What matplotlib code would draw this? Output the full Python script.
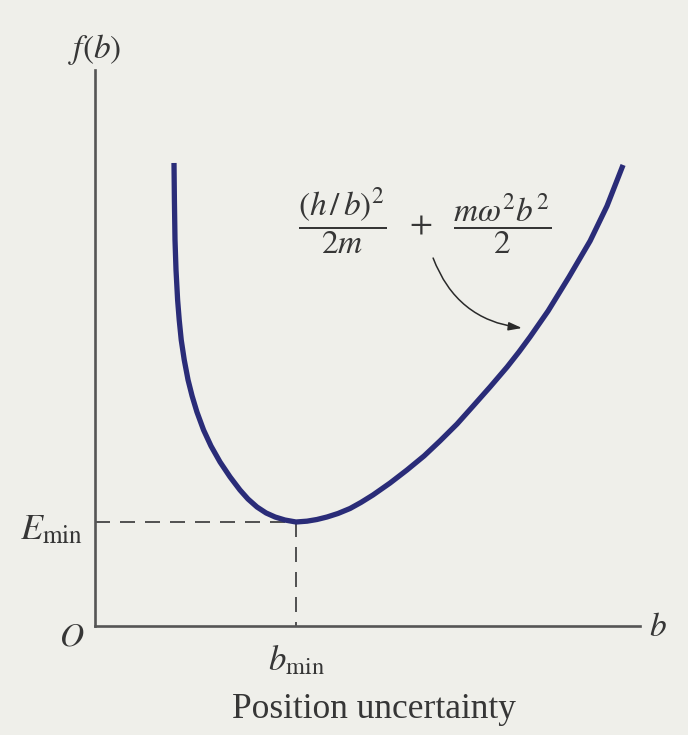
import matplotlib
matplotlib.use("Agg")
import matplotlib.pyplot as plt
import numpy as np

plt.rcParams['font.family'] = ['Liberation Serif', 'DejaVu Serif']
plt.rcParams['mathtext.fontset'] = 'stix'

#-----------Data------------
# energy curve f(b), b in units of b_min and f in units of E_min
b_vals = [0.393, 0.395, 0.398, 0.403, 0.411, 0.419, 0.429, 0.444, 0.463,
          0.483, 0.507, 0.540, 0.577, 0.622, 0.672, 0.721, 0.761, 0.806,
          0.851, 0.896, 0.945, 1.000,
          1.055, 1.104, 1.154, 1.209, 1.269, 1.323, 1.383, 1.468, 1.552,
          1.637, 1.716, 1.801, 1.881, 1.965, 2.050, 2.109, 2.164, 2.254,
          2.358, 2.463, 2.547, 2.627]
f_vals = [4.452, 4.096, 3.712, 3.423, 3.135, 2.942, 2.750, 2.558, 2.365,
          2.212, 2.058, 1.885, 1.731, 1.577, 1.433, 1.308, 1.221, 1.144,
          1.087, 1.048, 1.019, 1.000,
          1.008, 1.024, 1.048, 1.082, 1.130, 1.188, 1.260, 1.375, 1.500,
          1.635, 1.779, 1.942, 2.115, 2.298, 2.490, 2.635, 2.779, 3.029,
          3.356, 3.702, 4.038, 4.433]
b_min = 1.0
E_min = 1.0
b_axis_end = 2.71
f_axis_end = 5.35

bg = '#efefea'
curve_color = '#2a2c78'
axis_color = '#555555'
ink = '#363636'

fig = plt.figure(figsize=(6.88, 7.35), dpi=100)
fig.patch.set_facecolor(bg)
ax = fig.add_axes([0, 0, 1, 1])
ax.set_facecolor(bg)
ax.set_xlim(-0.4726, 2.950)
ax.set_ylim(-1.048, 6.019)

# axes through the origin
for side in ['top', 'right']:
    ax.spines[side].set_visible(False)
ax.spines['left'].set_position(('data', 0))
ax.spines['bottom'].set_position(('data', 0))
ax.spines['left'].set_bounds(0, f_axis_end)
ax.spines['bottom'].set_bounds(0, b_axis_end)
for side in ['left', 'bottom']:
    ax.spines[side].set_color(axis_color)
    ax.spines[side].set_linewidth(1.9)
ax.set_xticks([])
ax.set_yticks([])

# dashed guides to the minimum
ax.plot([0, b_min], [E_min, E_min], color=ink, lw=1.2, dashes=(9, 6))
ax.plot([b_min, b_min], [E_min, 0], color=ink, lw=1.2, dashes=(9, 6))

ax.plot(b_vals, f_vals, color=curve_color, lw=3.8, solid_capstyle='butt',
        solid_joinstyle='round')

# labels
ax.text(-0.114, -0.106, r'$O$', fontsize=24, ha='center', va='center', color=ink)
ax.text(2.80, -0.02, r'$b$', fontsize=24, ha='center', va='center', color=ink)
ax.text(0, 5.54, r'$f(b)$', fontsize=24, ha='center', va='center', color=ink)
ax.text(-0.06, 0.913, r'$E_{\mathrm{min}}$', fontsize=26, ha='right', va='center', color=ink)
ax.text(b_min, -0.337, r'$b_{\mathrm{min}}$', fontsize=25, ha='center', va='center', color=ink)
ax.text(1.39, -0.80, 'Position uncertainty', fontsize=25.5, ha='center', va='center', color=ink)

ax.text(1.642, 3.89,
        r'$\dfrac{(h\,/\,b)^2}{2m}\ \ +\ \ \dfrac{m\omega^2b^2}{2}$',
        fontsize=24, ha='center', va='center', color=ink)
ax.annotate('', xy=(2.124, 2.865), xytext=(1.682, 3.538),
            arrowprops=dict(arrowstyle='-|>,head_length=0.8,head_width=0.25',
                            connectionstyle='arc3,rad=0.3', color='#2a2a2a',
                            lw=1.1, shrinkA=0, shrinkB=0))

plt.savefig('out.png', dpi=100, facecolor=bg)
